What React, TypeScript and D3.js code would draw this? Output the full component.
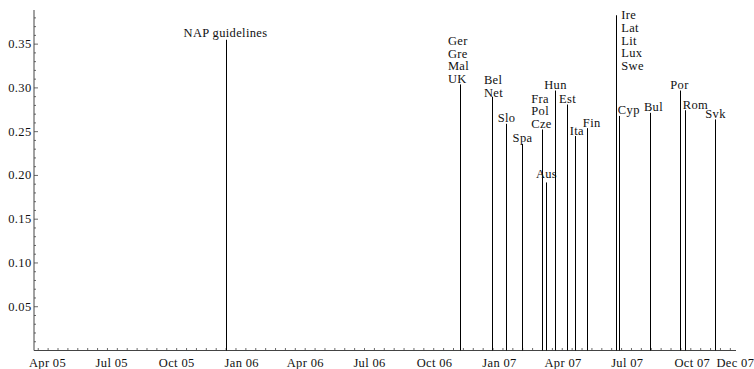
import React from "react";
import * as d3 from "d3";

// ---- data ----
const eventDates = [
  "2005-12-12", "2006-11-08", "2006-12-24", "2007-01-13", "2007-02-04",
  "2007-03-04", "2007-03-10", "2007-03-23", "2007-04-09", "2007-04-20",
  "2007-05-07", "2007-06-17", "2007-06-22", "2007-08-04", "2007-09-16",
  "2007-09-23", "2007-11-04",
];
const eventValues = [
  0.355, 0.304, 0.29, 0.259, 0.236, 0.2525, 0.192, 0.297, 0.281, 0.245,
  0.254, 0.383, 0.268, 0.2715, 0.297, 0.2745, 0.264,
];
const eventLabels = [
  ["NAP guidelines"], ["Ger", "Gre", "Mal", "UK"], ["Bel", "Net"], ["Slo"], ["Spa"],
  ["Fra", "Pol", "Cze"], ["Aus"], ["Hun"], ["Est"], ["Ita"],
  ["Fin"], ["Ire", "Lat", "Lit", "Lux", "Swe"], ["Cyp"], ["Bul"], ["Por"],
  ["Rom"], ["Svk"],
];
const xTickDates = [
  "2005-04-01", "2005-07-01", "2005-10-01", "2006-01-01", "2006-04-01", "2006-07-01",
  "2006-10-01", "2007-01-01", "2007-04-01", "2007-07-01", "2007-10-01", "2007-12-01",
];
const xTickLabels = [
  "Apr 05", "Jul 05", "Oct 05", "Jan 06", "Apr 06", "Jul 06",
  "Oct 06", "Jan 07", "Apr 07", "Jul 07", "Oct 07", "Dec 07",
];
const yTickValues = [0.05, 0.1, 0.15, 0.2, 0.25, 0.3, 0.35];
const yTickLabels = ["0.05", "0.10", "0.15", "0.20", "0.25", "0.30", "0.35"];

// ---- layout (label nudges, px) ----
const labelShiftX = [-1, -2, 1, 0, 0, -1, 0, 0, 0, 1.4, 4.2, 16, 9.3, 3, -1, 10, 0];
const labelShiftY = [-1, 0, 2, 0, 0, 0, -3, 0, 0, 0, 0, 56.2, 0, 0, 0, 0, 0];

const W = 754;
const H = 369;
const FONT = '"Liberation Serif", "Times New Roman", "DejaVu Serif", serif';
const FS = 12.5;
const LS = 0.35;
const ROW = 12.7;

const parse = d3.timeParse("%Y-%m-%d");

let ctx: CanvasRenderingContext2D | null = null;
function textWidth(s: string) {
  if (!ctx) ctx = document.createElement("canvas").getContext("2d");
  if (!ctx) return s.length * 6;
  ctx.font = `${FS}px "Liberation Serif", serif`;
  return ctx.measureText(s).width + LS * s.length;
}

export default function App() {
  const x = d3
    .scaleTime()
    .domain([parse("2005-03-15")!, parse("2007-12-04")!])
    .range([34, 736]);
  const y = d3.scaleLinear().domain([0, 0.389]).range([350.5, 10]);

  const x0 = x.range()[0];
  const x1 = x.range()[1];
  const y0 = y(0);

  // biweekly minor ticks on x axis
  const anchor = parse("2006-01-09")!;
  const [dStart, dEnd] = x.domain();
  const xMinor: Date[] = [];
  let t = new Date(anchor);
  while (t > dStart) t = d3.timeDay.offset(t, -14);
  t = d3.timeDay.offset(t, 14);
  while (t <= dEnd) {
    xMinor.push(t);
    t = d3.timeDay.offset(t, 14);
  }

  const yMinor = d3.range(1, 39).map((i) => i / 100);

  const axisColor = "#444";
  const textStyle = { fontFamily: FONT, fontSize: FS + "px", letterSpacing: LS + "px" };
  const textFill = "#111";

  return (
    <svg
      width={W}
      height={H}
      style={{ position: "absolute", left: 0, top: 0, background: "#fff", ...textStyle }}
    >
      {/* axes */}
      <line x1={x0} x2={x0} y1={y0} y2={y(0.389)} stroke={axisColor} strokeWidth={1} />
      <line x1={x0} x2={x1} y1={y0} y2={y0} stroke={axisColor} strokeWidth={1.2} />

      {/* y ticks */}
      {yMinor.map((v, i) => {
        const major = Math.abs(Math.round(v * 100) % 5) === 0;
        return (
          <line
            key={"ym" + i}
            x1={x0}
            x2={x0 + (major ? 4 : 2)}
            y1={y(v)}
            y2={y(v)}
            stroke={axisColor}
            strokeWidth={0.8}
          />
        );
      })}
      {yTickValues.map((v, i) => (
        <text
          key={"yl" + i}
          x={x0 - 2.5}
          y={y(v)}
          textAnchor="end"
          dominantBaseline="central"
          fill={textFill}
          style={textStyle}
        >
          {yTickLabels[i]}
        </text>
      ))}

      {/* x ticks */}
      {xMinor.map((d, i) => (
        <line
          key={"xm" + i}
          x1={x(d)}
          x2={x(d)}
          y1={y0}
          y2={y0 - 2.5}
          stroke={axisColor}
          strokeWidth={0.8}
        />
      ))}
      {xTickDates.map((s, i) => (
        <text
          key={"xl" + i}
          x={x(parse(s)!) + 1.5}
          y={363}
          textAnchor="middle"
          dominantBaseline="central"
          fill={textFill}
          style={textStyle}
        >
          {xTickLabels[i]}
        </text>
      ))}

      {/* events */}
      {eventDates.map((s, i) => {
        const xp = Math.round(x(parse(s)!)) + 0.5;
        const yt = y(eventValues[i]);
        const lines = eventLabels[i];
        const bw = Math.max(...lines.map(textWidth));
        const left = xp - bw / 2 + labelShiftX[i];
        const bottomCenter = yt - 5.5 + labelShiftY[i];
        return (
          <g key={"ev" + i}>
            <line x1={xp} x2={xp} y1={y0} y2={yt} stroke="#000" strokeWidth={1} />
            {lines.map((lab, j) => (
              <text
                key={j}
                x={lines.length === 1 ? xp + labelShiftX[i] : left}
                y={bottomCenter - (lines.length - 1 - j) * ROW}
                textAnchor={lines.length === 1 ? "middle" : "start"}
                dominantBaseline="central"
                fill={textFill}
                style={textStyle}
              >
                {lab}
              </text>
            ))}
          </g>
        );
      })}
    </svg>
  );
}
